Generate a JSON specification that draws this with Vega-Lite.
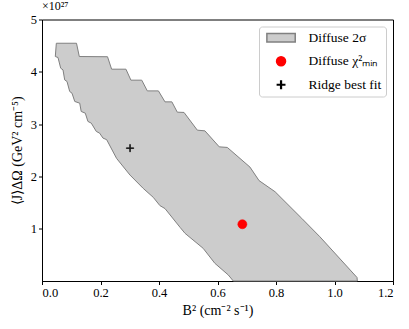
{
  "$schema": "https://vega.github.io/schema/vega-lite/v6.json",
  "width": 351,
  "height": 261.5,
  "autosize": "none",
  "padding": {"left": 42, "top": 19.5, "right": 16, "bottom": 48},
  "config": {
    "font": "Liberation Serif",
    "view": {"stroke": "black", "strokeWidth": 1},
    "axis": {
      "grid": false,
      "domainColor": "black",
      "tickColor": "black",
      "labelColor": "black",
      "titleColor": "black",
      "labelFont": "Liberation Serif",
      "titleFont": "Liberation Serif",
      "labelFontSize": 12.5,
      "titleFontSize": 14,
      "titleFontWeight": "normal",
      "tickSize": 3.5,
      "domainWidth": 1,
      "tickWidth": 1,
      "labelPadding": 2
    },
    "legend": {
      "labelFont": "Liberation Serif",
      "labelFontSize": 13.5,
      "labelColor": "black"
    }
  },
  "title": {
    "text": "×10²⁷",
    "anchor": "start",
    "frame": "group",
    "fontSize": 12,
    "fontWeight": "normal",
    "font": "Liberation Serif",
    "color": "black",
    "offset": 1
  },
  "layer": [
    {
      "data": {
        "values": [
          {"i": 1, "x": 0.049, "y": 4.546},
          {"i": 2, "x": 0.118, "y": 4.546},
          {"i": 3, "x": 0.1275, "y": 4.292},
          {"i": 4, "x": 0.224, "y": 4.288},
          {"i": 5, "x": 0.238, "y": 4.05},
          {"i": 6, "x": 0.287, "y": 4.05},
          {"i": 7, "x": 0.304, "y": 3.84},
          {"i": 8, "x": 0.341, "y": 3.84},
          {"i": 9, "x": 0.36, "y": 3.635},
          {"i": 10, "x": 0.398, "y": 3.635},
          {"i": 11, "x": 0.4205, "y": 3.425},
          {"i": 12, "x": 0.444, "y": 3.425},
          {"i": 13, "x": 0.4626, "y": 3.228},
          {"i": 14, "x": 0.4855, "y": 3.223},
          {"i": 15, "x": 0.531, "y": 2.884},
          {"i": 16, "x": 0.557, "y": 2.871},
          {"i": 17, "x": 0.606, "y": 2.565},
          {"i": 18, "x": 0.6335, "y": 2.554},
          {"i": 19, "x": 0.711, "y": 2.178},
          {"i": 20, "x": 0.742, "y": 1.92},
          {"i": 21, "x": 0.797, "y": 1.706},
          {"i": 22, "x": 0.888, "y": 1.198},
          {"i": 23, "x": 0.95, "y": 0.846},
          {"i": 24, "x": 1.077, "y": 0.067},
          {"i": 25, "x": 1.078, "y": 0.0},
          {"i": 26, "x": 0.654, "y": 0.0},
          {"i": 27, "x": 0.637, "y": 0.115},
          {"i": 28, "x": 0.591, "y": 0.338},
          {"i": 29, "x": 0.551, "y": 0.625},
          {"i": 30, "x": 0.489, "y": 0.911},
          {"i": 31, "x": 0.472, "y": 1.026},
          {"i": 32, "x": 0.4205, "y": 1.385},
          {"i": 33, "x": 0.403, "y": 1.442},
          {"i": 34, "x": 0.3805, "y": 1.599},
          {"i": 35, "x": 0.346, "y": 1.771},
          {"i": 36, "x": 0.301, "y": 2.025},
          {"i": 37, "x": 0.255, "y": 2.344},
          {"i": 38, "x": 0.221, "y": 2.703},
          {"i": 39, "x": 0.2085, "y": 2.732},
          {"i": 40, "x": 0.197, "y": 2.827},
          {"i": 41, "x": 0.1856, "y": 2.86},
          {"i": 42, "x": 0.1685, "y": 3.018},
          {"i": 43, "x": 0.157, "y": 3.051},
          {"i": 44, "x": 0.148, "y": 3.209},
          {"i": 45, "x": 0.134, "y": 3.242},
          {"i": 46, "x": 0.129, "y": 3.4},
          {"i": 47, "x": 0.112, "y": 3.433},
          {"i": 48, "x": 0.1026, "y": 3.591},
          {"i": 49, "x": 0.0947, "y": 3.624},
          {"i": 50, "x": 0.0855, "y": 3.815},
          {"i": 51, "x": 0.0776, "y": 3.845},
          {"i": 52, "x": 0.0718, "y": 4.036},
          {"i": 53, "x": 0.0639, "y": 4.069},
          {"i": 54, "x": 0.0547, "y": 4.273},
          {"i": 55, "x": 0.0455, "y": 4.292},
          {"i": 56, "x": 0.049, "y": 4.546}
        ]
      },
      "mark": {"type": "line", "fill": "#cccccc", "stroke": "#808080", "strokeWidth": 1, "strokeJoin": "miter"},
      "encoding": {
        "x": {
          "field": "x",
          "type": "quantitative",
          "scale": {"domain": [0, 1.2], "nice": false, "zero": false},
          "axis": {
            "values": [0, 0.2, 0.4, 0.6, 0.8, 1.0, 1.2],
            "format": ".1f",
            "title": "B² (cm⁻² s⁻¹)",
            "titlePadding": 4
          }
        },
        "y": {
          "field": "y",
          "type": "quantitative",
          "scale": {"domain": [0, 5], "nice": false},
          "axis": {
            "values": [1, 2, 3, 4, 5],
            "format": "d",
            "title": "⟨J⟩ΔΩ (GeV² cm⁻⁵)",
            "titlePadding": 6
          }
        },
        "order": {"field": "i", "type": "quantitative"}
      }
    },
    {
      "data": {
        "values": [
          {"x": 0.685, "y": 1.085, "label": "Diffuse χ²ₘᵢₙ"},
          {"x": 0.301, "y": 2.54, "label": "Ridge best fit"}
        ]
      },
      "mark": {"type": "point", "filled": true, "size": 81, "opacity": 1, "strokeWidth": 0.6},
      "encoding": {
        "x": {"field": "x", "type": "quantitative"},
        "y": {"field": "y", "type": "quantitative"},
        "color": {
          "field": "label",
          "type": "nominal",
          "scale": {
            "domain": ["Diffuse 2σ", "Diffuse χ²ₘᵢₙ", "Ridge best fit"],
            "range": ["#cccccc", "#ff0000", "#000000"]
          },
          "legend": {
            "title": null,
            "orient": "top-right",
            "offset": 7,
            "padding": 4.5,
            "strokeColor": "#cccccc",
            "fillColor": "white",
            "cornerRadius": 3,
            "symbolSize": 81,
            "symbolOffset": 10.8,
            "labelOffset": 20.8,
            "rowPadding": 7.5
          }
        },
        "stroke": {
          "field": "label",
          "type": "nominal",
          "scale": {
            "domain": ["Diffuse 2σ", "Diffuse χ²ₘᵢₙ", "Ridge best fit"],
            "range": ["#808080", "#ff0000", "#000000"]
          },
          "legend": {
            "title": null,
            "orient": "top-right",
            "offset": 7,
            "padding": 4.5,
            "strokeColor": "#cccccc",
            "fillColor": "white",
            "cornerRadius": 3,
            "symbolSize": 81,
            "symbolOffset": 10.8,
            "labelOffset": 20.8,
            "rowPadding": 7.5
          }
        },
        "shape": {
          "field": "label",
          "type": "nominal",
          "scale": {
            "domain": ["Diffuse 2σ", "Diffuse χ²ₘᵢₙ", "Ridge best fit"],
            "range": [
              "M-3.15,-0.95H3.15V0.95H-3.15Z",
              "circle",
              "M-0.08,-0.82H0.08V-0.08H0.82V0.08H0.08V0.82H-0.08V0.08H-0.82V-0.08H-0.08Z"
            ]
          }
        }
      }
    }
  ]
}
